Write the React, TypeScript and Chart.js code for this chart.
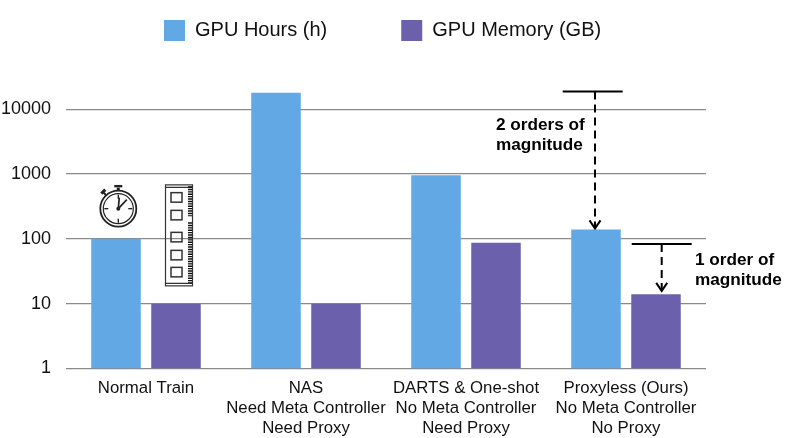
import React, { useEffect, useRef } from "react";
import { Chart, registerables } from "chart.js";

Chart.register(...registerables);

const categories = [
  "Normal Train",
  ["NAS", "Need Meta Controller", "Need Proxy"],
  ["DARTS & One-shot", "No Meta Controller", "Need Proxy"],
  ["Proxyless (Ours)", "No Meta Controller", "No Proxy"],
];
const gpuHours = [100, 18000, 955, 140];
const gpuMemory = [10, 10, 87, 14];
const decades = [1, 10, 100, 1000, 10000];
const FONT = '"Liberation Sans", Arial, sans-serif';
const LEGEND_GAP = 74;

const legendPlacer = {
  id: "legendPlacer",
  afterLayout(chart: any) {
    const l = chart.legend;
    if (!l) return;
    const w = l.right - l.left;
    l.left = 164 - LEGEND_GAP;
    l.right = l.left + w;
    const h = l.bottom - l.top;
    l.top = 20 - LEGEND_GAP;
    l.bottom = l.top + h;
  },
};

const overlay = {
  id: "overlay",
  afterDatasetsDraw(chart: any) {
    const { ctx, scales } = chart;
    const y = scales.y;
    const x = scales.x;
    const ink = "#000";
    ctx.save();
    ctx.strokeStyle = ink;
    ctx.fillStyle = ink;

    const bracket = (cx: number, stem: number, half: number, from: number, to: number) => {
      const top = y.getPixelForValue(from);
      const end = y.getPixelForValue(to);
      ctx.lineWidth = 2;
      ctx.setLineDash([]);
      ctx.beginPath();
      ctx.moveTo(cx - half, top);
      ctx.lineTo(cx + half, top);
      ctx.stroke();
      ctx.setLineDash([8, 5]);
      ctx.beginPath();
      ctx.moveTo(stem, top);
      ctx.lineTo(stem, end - 1);
      ctx.stroke();
      ctx.setLineDash([]);
      ctx.beginPath();
      ctx.moveTo(stem - 5.5, end - 9);
      ctx.lineTo(stem, end - 1);
      ctx.lineTo(stem + 5.5, end - 9);
      ctx.stroke();
    };
    const c3 = x.getPixelForValue(3);
    bracket(c3 - 33.3, c3 - 31, 30, 18800, 140);
    bracket(c3 + 35.7, c3 + 35.7, 30, 83, 15.2);

    ctx.font = `bold 17.2px ${FONT}`;
    ctx.textAlign = "left";
    ctx.textBaseline = "alphabetic";
    ctx.fillText("2 orders of", 496, 130);
    ctx.fillText("magnitude", 496, 150);
    ctx.fillText("1 order of", 695, 265);
    ctx.fillText("magnitude", 695, 285);

    // stopwatch icon
    const sx = x.getPixelForValue(0) - 27.7;
    const sy = y.getPixelForValue(100) - 30.2;
    ctx.strokeStyle = "#222";
    ctx.fillStyle = "#222";
    ctx.lineWidth = 1.8;
    ctx.beginPath(); ctx.arc(sx, sy, 18, 0, Math.PI * 2); ctx.stroke();
    ctx.lineWidth = 1.2;
    ctx.beginPath(); ctx.arc(sx, sy, 15, 0, Math.PI * 2); ctx.stroke();
    ctx.lineWidth = 1.4;
    for (let i = 0; i < 4; i++) {
      const a = (i * Math.PI) / 2;
      ctx.beginPath();
      ctx.moveTo(sx + Math.cos(a) * 10, sy + Math.sin(a) * 10);
      ctx.lineTo(sx + Math.cos(a) * 14, sy + Math.sin(a) * 14);
      ctx.stroke();
    }
    ctx.lineWidth = 1.7;
    ctx.beginPath(); ctx.moveTo(sx, sy); ctx.lineTo(sx + 1, sy - 11); ctx.stroke();
    ctx.beginPath(); ctx.moveTo(sx, sy); ctx.lineTo(sx + 8.5, sy - 9); ctx.stroke();
    ctx.beginPath(); ctx.arc(sx, sy, 2, 0, Math.PI * 2); ctx.fill();
    ctx.lineWidth = 2.4;
    ctx.beginPath(); ctx.moveTo(sx - 4, sy - 22.5); ctx.lineTo(sx + 4, sy - 22.5); ctx.stroke();
    ctx.lineWidth = 3;
    ctx.beginPath(); ctx.moveTo(sx, sy - 21); ctx.lineTo(sx, sy - 18); ctx.stroke();
    ctx.lineWidth = 2;
    ctx.beginPath(); ctx.moveTo(sx - 12, sy - 13); ctx.lineTo(sx - 14.5, sy - 16); ctx.stroke();
    ctx.lineWidth = 3;
    ctx.beginPath(); ctx.moveTo(sx - 17, sy - 15); ctx.lineTo(sx - 13, sy - 19); ctx.stroke();

    // memory module icon
    const mx = x.getPixelForValue(0) + 19;
    const my = y.getPixelForValue(100) - 54.5;
    ctx.strokeStyle = "#333";
    ctx.lineWidth = 1.2;
    ctx.strokeRect(mx + 0.5, my + 0.5, 27, 101);
    ctx.beginPath();
    ctx.moveTo(mx, my + 3); ctx.lineTo(mx + 27, my + 3);
    ctx.moveTo(mx, my + 99); ctx.lineTo(mx + 27, my + 99);
    ctx.stroke();
    ctx.lineWidth = 1.5;
    [8.3, 26, 48, 66, 83].forEach((dy) => {
      ctx.strokeRect(mx + 6, my + dy, 11, 9.5);
    });
    ctx.lineWidth = 4;
    ctx.setLineDash([1.4, 1]);
    ctx.strokeStyle = "#111";
    ctx.beginPath(); ctx.moveTo(mx + 25, my + 2); ctx.lineTo(mx + 25, my + 32); ctx.stroke();
    ctx.beginPath(); ctx.moveTo(mx + 25, my + 38); ctx.lineTo(mx + 25, my + 99); ctx.stroke();
    ctx.setLineDash([]);
    ctx.restore();
  },
};

export default function App() {
  const ref = useRef<HTMLCanvasElement>(null);
  useEffect(() => {
    const chart = new Chart(ref.current as HTMLCanvasElement, {
      type: "bar",
      data: {
        labels: categories as any,
        datasets: [
          { label: "GPU Hours (h)", data: gpuHours, backgroundColor: "#62A8E5", categoryPercentage: 0.75, barPercentage: 0.825 },
          { label: "GPU Memory (GB)", data: gpuMemory, backgroundColor: "#6B60AB", categoryPercentage: 0.75, barPercentage: 0.825 },
        ],
      },
      options: {
        responsive: false,
        animation: false,
        layout: { padding: { top: -26.7, right: 80, bottom: 0, left: 0 } },
        plugins: {
          tooltip: { enabled: false },
          legend: {
            position: "top",
            align: "start",
            onClick: () => {},
            labels: {
              boxWidth: 21,
              boxHeight: 21,
              padding: LEGEND_GAP,
              color: "#111",
              font: { family: FONT, size: 20 },
            },
          },
        },
        scales: {
          x: {
            afterFit(s: any) { s.height = 69.5; },
            grid: { display: false },
            border: { display: false },
            ticks: { color: "#111", font: { family: FONT, size: 16.8, lineHeight: 1.19 }, padding: 2, maxRotation: 0, autoSkip: false },
          },
          y: {
            type: "logarithmic",
            min: 1,
            max: 30000,
            afterFit(s: any) { s.width = 66; },
            afterBuildTicks(s: any) { s.ticks = decades.map((value) => ({ value })); },
            grid: { color: "#8a8a8a", lineWidth: 1.3, drawTicks: false },
            border: { display: false },
            ticks: {
              color: "#111",
              padding: 15,
              font: { family: FONT, size: 18 },
              callback: (v: any) => String(v),
            },
          },
        },
      } as any,
      plugins: [legendPlacer, overlay],
    });
    return () => chart.destroy();
  }, []);
  return (
    <canvas
      ref={ref}
      width={786}
      height={438}
      style={{ position: "fixed", left: 0, top: 0, width: 786, height: 438, background: "#fff" }}
    />
  );
}
